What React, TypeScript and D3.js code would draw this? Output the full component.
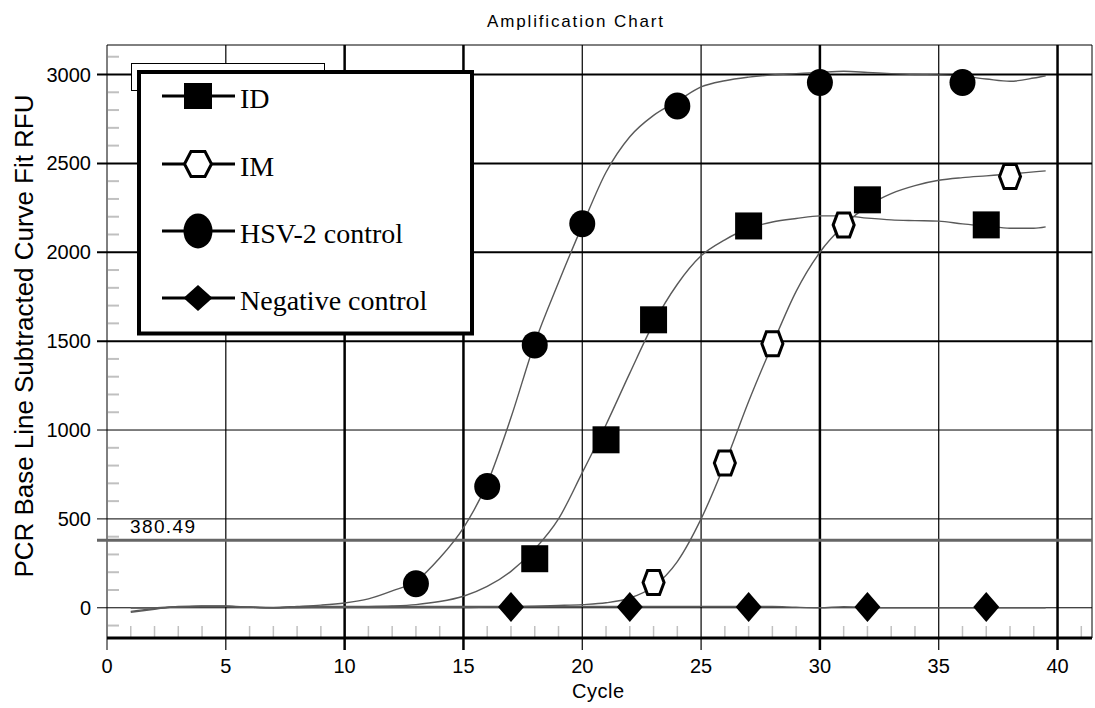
import React from "react";
import * as d3 from "d3";

// curve fits, read per cycle
const cycles = [1, 2, 3, 4, 5, 6, 7, 8, 9, 10, 11, 12, 13, 14, 15, 16, 17, 18, 19, 20,
  21, 22, 23, 24, 25, 26, 27, 28, 29, 30, 31, 32, 33, 34, 35, 36, 37, 38, 39, 39.5];

const hsvCurve = [-20, -5, 5, 8, 8, 3, 2, 8, 15, 27, 50, 95, 150, 280, 450, 700, 1070, 1490, 1830, 2150,
  2450, 2650, 2770, 2850, 2930, 2965, 2985, 2998, 3005, 3012, 3018, 3012, 3005, 3000, 2998, 2990, 2975, 2962, 2980, 2993];

const idCurve = [0, 0, 5, 8, 8, 3, 0, 2, 3, 4, 6, 10, 18, 35, 65, 120, 205, 330, 500, 760,
  1030, 1320, 1600, 1820, 1980, 2070, 2135, 2170, 2190, 2205, 2205, 2192, 2182, 2178, 2175, 2160, 2148, 2135, 2135, 2143];

const imCurve = [0, 0, 5, 8, 8, 3, 0, 2, 2, 2, 2, 2, 2, 2, 2, 4, 6, 9, 13, 18,
  28, 55, 120, 260, 500, 810, 1160, 1480, 1780, 2000, 2150, 2260, 2330, 2375, 2405, 2420, 2430, 2440, 2452, 2458];

const negCurve = [-25, -8, 8, 10, 10, 4, 0, 6, 8, 8, 8, 8, 8, 8, 8, 8, 8, 8, 8, 8,
  8, 8, 8, 8, 8, 8, 8, 8, 3, 0, 6, 2, 0, 0, 0, 0, 0, 0, 0, 0];

// measured points (cycle, RFU)
const hsvPoints: [number, number][] = [[13, 135], [16, 682], [18, 1479], [20, 2160], [24, 2823], [30, 2955], [36, 2955]];
const idPoints: [number, number][] = [[18, 276], [21, 945], [23, 1620], [27, 2148], [32, 2295], [37, 2154]];
const imPoints: [number, number][] = [[23, 142], [26, 814], [28, 1485], [31, 2154], [38, 2426]];
const negPoints: [number, number][] = [[17, 5], [22, 5], [27, 5], [32, 5], [37, 5]];

const xTicks = [0, 5, 10, 15, 20, 25, 30, 35, 40];
const yTicks = [0, 500, 1000, 1500, 2000, 2500, 3000];
const threshold = 380.49;

const legendItems = ["ID", "IM", "HSV-2 control", "Negative control"];

const W = 1095;
const H = 708;
const left = 107, right = 1092, top = 45, bottom = 638;

const x = d3.scaleLinear().domain([0, 41.45]).range([left, right]);
const y = d3.scaleLinear().domain([-170, 3166]).range([bottom, top]);

const line = d3
  .line<[number, number]>()
  .x((d) => x(d[0]))
  .y((d) => y(d[1]))
  .curve(d3.curveMonotoneX);

const thickX = new Set([10, 15, 30, 40]);
const thickY = new Set([1500, 2000, 2500, 3000]);

const minorX = d3.range(1, 42).filter((v) => v % 5 !== 0);
const minorY = d3.range(-100, 3200, 100).filter((v) => v % 500 !== 0);

const hexPath = (w: number, h: number, f: number) =>
  `M${-w},0L${-f},${-h}L${f},${-h}L${w},0L${f},${h}L${-f},${h}Z`;
const diamondPath = (w: number, h: number) => `M0,${-h}L${w},0L0,${h}L${-w},0Z`;

const sans = "'Liberation Sans', Arial, sans-serif";
const serif = "'Liberation Serif', 'Times New Roman', serif";

function Marker({ kind, cx, cy, legend }: { kind: number; cx: number; cy: number; legend?: boolean }) {
  const t = `translate(${cx},${cy})`;
  if (kind === 0) {
    const w = legend ? 28 : 27;
    const h = legend ? 26 : 27;
    return <rect x={cx - w / 2} y={cy - h / 2} width={w} height={h} fill="#000" />;
  }
  if (kind === 1) {
    return (
      <path
        transform={t}
        d={legend ? hexPath(13.5, 12.5, 7) : hexPath(10.5, 12, 6)}
        fill="#fff"
        stroke="#000"
        strokeWidth={3}
      />
    );
  }
  if (kind === 2) {
    return legend ? (
      <ellipse cx={cx} cy={cy} rx={14.5} ry={17.5} fill="#000" />
    ) : (
      <ellipse cx={cx} cy={cy} rx={13} ry={13.5} fill="#000" />
    );
  }
  return <path transform={t} d={legend ? diamondPath(14.5, 13) : diamondPath(13, 15)} fill="#000" />;
}

export default function App() {
  const curves = [idCurve, imCurve, hsvCurve, negCurve].map((vals) =>
    cycles.map((c, i) => [c, vals[i]] as [number, number]),
  );
  const pointSets = [idPoints, imPoints, hsvPoints, negPoints];
  const legendRows = [96, 164, 231, 298];

  return (
    <svg
      width={W}
      height={H}
      style={{ position: "absolute", left: 0, top: 0, background: "#fff" }}
      fontFamily={sans}
    >
      <rect width={W} height={H} fill="#fff" />

      <text x={575} y={27} textAnchor="middle" fontSize={17} textLength={176} lengthAdjust="spacing">
        Amplification Chart
      </text>

      {/* minor ticks */}
      {minorY.map((v) => (
        <line key={"my" + v} x1={left + 1} x2={left + 12} y1={y(v)} y2={y(v)} stroke="#c0c0c0" strokeWidth={2} />
      ))}
      {minorX.map((v) => (
        <line key={"mx" + v} x1={x(v)} x2={x(v)} y1={bottom - 12} y2={bottom - 1} stroke="#c0c0c0" strokeWidth={1.5} />
      ))}

      {/* grid */}
      {yTicks.map((v) => (
        <line
          key={"gy" + v}
          x1={left - 10}
          x2={right}
          y1={y(v)}
          y2={y(v)}
          stroke="#000"
          strokeWidth={thickY.has(v) ? 2 : 1}
        />
      ))}
      {xTicks.map((v) => (
        <line
          key={"gx" + v}
          x1={x(v)}
          x2={x(v)}
          y1={top}
          y2={bottom + 12}
          stroke="#000"
          strokeWidth={v === 0 ? 1 : thickX.has(v) ? 2.5 : 1.2}
        />
      ))}
      <line x1={left} x2={right} y1={top} y2={top} stroke="#000" strokeWidth={1} />
      <line x1={right} x2={right} y1={top} y2={bottom} stroke="#000" strokeWidth={1} />
      <line x1={left} x2={right} y1={bottom} y2={bottom} stroke="#000" strokeWidth={3} />

      {/* threshold */}
      <line x1={left - 10} x2={right} y1={y(threshold)} y2={y(threshold)} stroke="#666" strokeWidth={3} />
      <text x={130} y={533} fontSize={19} textLength={65} lengthAdjust="spacing">
        {threshold.toFixed(2)}
      </text>

      {/* tick labels */}
      {yTicks.map((v) => (
        <text key={"ly" + v} x={91} y={y(v) + 7} textAnchor="end" fontSize={20}>
          {v}
        </text>
      ))}
      {xTicks.map((v) => (
        <text key={"lx" + v} x={x(v)} y={673} textAnchor="middle" fontSize={20}>
          {v}
        </text>
      ))}
      <text x={598} y={698} textAnchor="middle" fontSize={20} textLength={52} lengthAdjust="spacing">
        Cycle
      </text>
      <text
        transform="translate(33,336) rotate(-90)"
        textAnchor="middle"
        fontSize={26}
        textLength={483}
        lengthAdjust="spacing"
      >
        PCR Base Line Subtracted Curve Fit RFU
      </text>

      {/* fitted curves */}
      {curves.map((c, i) => (
        <path key={"c" + i} d={line(c) ?? ""} fill="none" stroke="#595959" strokeWidth={1.4} />
      ))}

      {/* measured markers */}
      {pointSets.map((pts, k) =>
        pts.map((p, j) => <Marker key={`m${k}-${j}`} kind={k} cx={x(p[0])} cy={y(p[1])} />),
      )}

      {/* legend */}
      <rect x={131.5} y={63.5} width={193} height={27} fill="#fff" stroke="#000" strokeWidth={1} />
      <rect x={139} y={72} width={333} height={261.5} fill="#fff" stroke="#000" strokeWidth={4} />
      {legendItems.map((name, i) => (
        <g key={name}>
          <line x1={162} x2={235} y1={legendRows[i]} y2={legendRows[i]} stroke="#000" strokeWidth={3} />
          <Marker kind={i} cx={198} cy={legendRows[i]} legend />
          <text x={240} y={legendRows[i] + 12} fontSize={28} fontFamily={serif}>
            {name}
          </text>
        </g>
      ))}
    </svg>
  );
}
